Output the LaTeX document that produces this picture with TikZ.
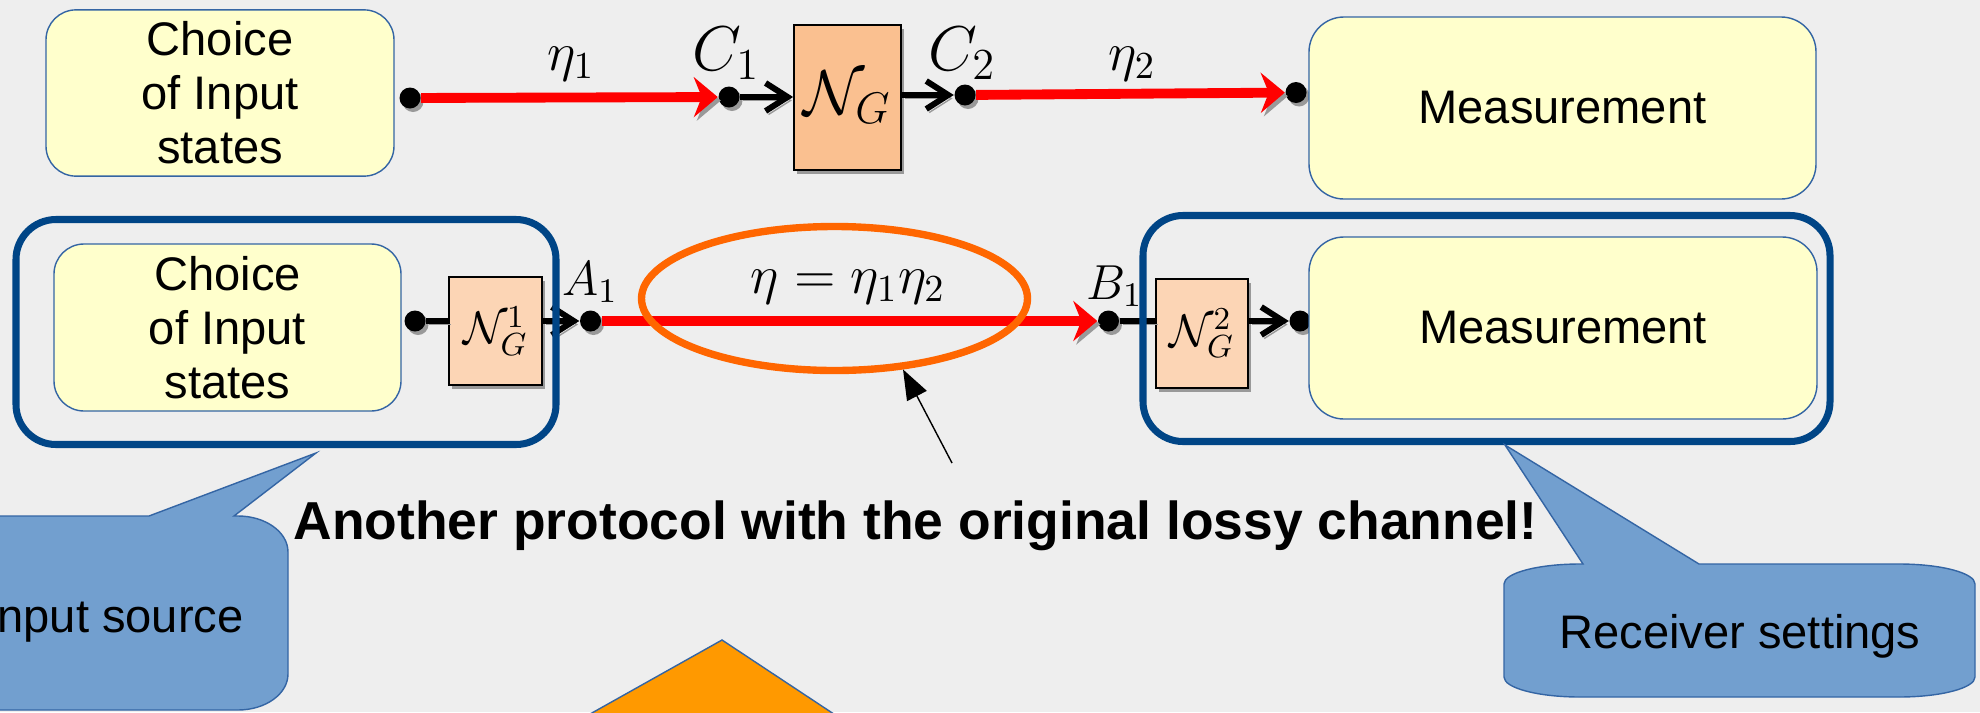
\RequirePackage{fix-cm}
\documentclass[tikz,border=0pt]{standalone}
\usepackage{fontspec}
\setmainfont{Liberation Sans}
\usetikzlibrary{positioning, arrows.meta, shapes.geometric, shadows}

\definecolor{bgcol}{HTML}{EEEEEE}
\definecolor{boxfill}{HTML}{FFFFCC}
\definecolor{boxline}{HTML}{3465A4}
\definecolor{chtop}{HTML}{FAC090}
\definecolor{chlow}{HTML}{FCD5B5}
\definecolor{grpblue}{HTML}{004586}
\definecolor{orng}{HTML}{FF6600}
\definecolor{callfill}{HTML}{729FCF}
\definecolor{trifill}{HTML}{FF9900}

\newcommand{\txtsize}{\fontsize{13.4pt}{15.4pt}\selectfont}

\begin{document}
\begin{tikzpicture}[
    box/.style={draw=boxline, line width=0.4pt, fill=boxfill, rounded corners=0.3cm, align=center, font=\txtsize},
    dropsh/.style={drop shadow={shadow xshift=0.3mm, shadow yshift=-0.35mm, fill=black!40, opacity=1}},
    chan/.style={draw, line width=0.5pt, fill=chlow, inner sep=0pt, dropsh},
    dot/.style={circle, fill=black, inner sep=0pt, minimum size=2.1mm, dropsh},
    grp/.style={draw=grpblue, line width=2pt, rounded corners=0.4cm},
    shadowed/.style={preaction={draw=black!40, transform canvas={shift={(0.3mm,-0.35mm)}}}},
    wire/.style={line width=1.7pt, shadowed},
    feed/.style={wire, -{Straight Barb[length=2.2mm, width=2.8mm]}},
    beam/.style={line width=2.8pt, red, shadowed, -{Stealth[length=2.4mm, width=4mm, inset=0.8mm]}},
    lab/.style={anchor=base, inner sep=0pt},
    callout/.style={fill=callfill, draw=boxline, line width=0.4pt},
]
% background
\fill[bgcol] (0,0) rectangle (19.8,7.12);
\useasboundingbox (0,0) rectangle (19.8,7.12);
\clip (0,0) rectangle (19.8,7.12);

% Top row: two lossy pieces around the channel
\node[box, minimum width=3.48cm, minimum height=1.66cm] (src1) at (2.20,6.19) {Choice\\of Input\\states};
\node[dot] (d0) at (4.10,6.14) {};
\node[dot] (c1) at (7.29,6.15) {};
\node[chan, fill=chtop, minimum width=1.07cm, minimum height=1.45cm, font=\fontsize{18pt}{20pt}\selectfont] (ng) at (8.475,6.145) {$\mathcal{N}_G$};
\node[dot] (c2) at (9.65,6.17) {};
\node[dot] (m0) at (12.96,6.195) {};
\node[box, rounded corners=0.35cm, minimum width=5.07cm, minimum height=1.82cm] (meas1) at (15.625,6.04) {Measurement};

\node[lab, font=\fontsize{18pt}{20pt}\selectfont] (lc1) at (7.26,6.42) {$C_1$};
\node[lab, font=\fontsize{18pt}{20pt}\selectfont] (lc2) at (9.62,6.42) {$C_2$};
\node[lab, font=\fontsize{15.5pt}{18pt}\selectfont] (leta1) at (5.71,6.42) {$\eta_1$};
\node[lab, font=\fontsize{15.5pt}{18pt}\selectfont] (leta2) at (11.32,6.42) {$\eta_2$};

\draw[beam] (d0) -- (c1);
\draw[feed] (c1) -- (c1 -| ng.west);
\draw[feed] (ng.east |- c2) -- (c2);
\draw[beam] (c2) -- (m0);

% Bottom row: the same loss, gates moved to the ends
\node[box, minimum width=3.47cm, minimum height=1.67cm] (src2) at (2.275,3.845) {Choice\\of Input\\states};
\node[dot] (d1) at (4.15,3.91) {};
\node[chan, minimum width=0.93cm, minimum height=1.08cm, font=\fontsize{13pt}{15pt}\selectfont] (ng1) at (4.955,3.81) {$\mathcal{N}_G^1$};
\node[dot] (a1) at (5.905,3.91) {};
\node[dot] (b1) at (11.085,3.91) {};
\node[chan, minimum width=0.92cm, minimum height=1.09cm, font=\fontsize{13pt}{15pt}\selectfont] (ng2) at (12.02,3.785) {$\mathcal{N}_G^2$};
\node[dot] (m1) at (13.00,3.91) {};
\node[box, rounded corners=0.35cm, minimum width=5.08cm, minimum height=1.82cm] (meas2) at (15.63,3.84) {Measurement};

\node[lab, font=\fontsize{14pt}{16pt}\selectfont] (la1) at (5.90,4.17) {$A_1$};
\node[lab, font=\fontsize{14pt}{16pt}\selectfont] (lb1) at (11.145,4.13) {$B_1$};

\draw[wire] (d1) -- (d1 -| ng1.west);
\draw[feed] (ng1.east |- a1) -- (a1);
\draw[beam] (a1) -- (b1);
\draw[wire] (b1) -- (b1 -| ng2.west);
\draw[feed] (ng2.east |- m1) -- (m1);

\node[draw=orng, line width=2.1pt, ellipse, minimum width=3.86cm, minimum height=1.44cm, inner sep=0pt] (ell) at (8.345,4.135) {};
\node[lab, font=\fontsize{15.5pt}{18pt}\selectfont] (leta) at (8.48,4.19) {$\eta=\eta_1\eta_2$};

% sender and receiver groups
\node[grp, minimum width=5.40cm, minimum height=2.25cm] (grpL) at (2.86,3.80) {};
\node[grp, minimum width=6.87cm, minimum height=2.26cm] (grpR) at (14.865,3.835) {};

% remark
\coordinate (ptr) at (9.52,2.49);
\draw[line width=0.4pt, -{Triangle[length=3mm, width=2.2mm]}] (ptr) -- (ell.-46);
\node[lab, font=\fontsize{15.2pt}{17pt}\selectfont\bfseries] (note) at (9.155,1.73) {Another protocol with the original lossy channel!};

% callouts
\draw[callout] (1.49,1.96) -- (3.16,2.59) -- (2.34,1.96) -- (2.38,1.96)
    arc[start angle=90, end angle=0, x radius=0.5, y radius=0.36] -- (2.88,0.38)
    arc[start angle=0, end angle=-90, x radius=0.5, y radius=0.36] -- (-0.8,0.02) -- (-0.8,1.96) -- cycle;
\node[lab, font=\txtsize] (srcnote) at (1.14,0.80) {Input source};

\draw[callout] (15.83,1.48) -- (15.05,2.67) -- (16.99,1.48) -- (18.99,1.48)
    arc[start angle=90, end angle=0, x radius=0.76, y radius=0.2] -- (19.75,0.35)
    arc[start angle=0, end angle=-90, x radius=0.76, y radius=0.2] -- (15.80,0.15)
    arc[start angle=-90, end angle=-180, x radius=0.76, y radius=0.2] -- (15.04,1.28)
    arc[start angle=180, end angle=90, x radius=0.76, y radius=0.2] -- cycle;
\node[lab, font=\txtsize] (rcvnote) at (17.40,0.64) {Receiver settings};

\draw[fill=trifill, draw=boxline, line width=0.4pt] (7.22,0.72) -- (8.61,-0.2) -- (5.58,-0.2) -- cycle;
\end{tikzpicture}
\end{document}
